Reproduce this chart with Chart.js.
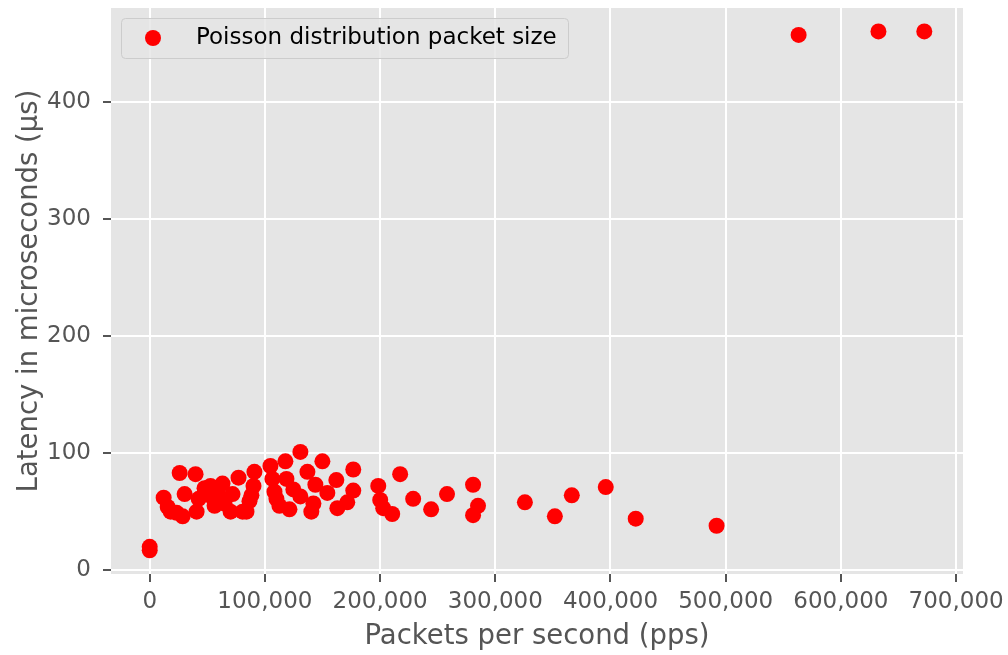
<!DOCTYPE html>
<html>
<head>
<meta charset="utf-8">
<script src="https://cdn.jsdelivr.net/npm/chart.js@4"></script>
<style>
  body { margin: 0; background: #ffffff; }
  canvas { display: block; }
</style>
</head>
<body>
<canvas id="latencyChart" width="1008" height="655"></canvas>
<script>
// Packets per second for each measurement
const packetsPerSecond = [
  0, 0, 12100, 15600, 18200, 23400, 28600, 26000, 30300, 39800,
  40700, 42500, 47600, 52800, 54600, 56300, 60600, 63200, 65000, 70200,
  71900, 77100, 80600, 84000, 86600, 88300, 90100, 90900, 104800, 106500,
  108300, 110000, 112600, 117800, 118700, 121300, 124700, 130800, 130800, 136900,
  140300, 143800, 142100, 149900, 154200, 162900, 162000, 171500, 176700, 176700,
  198400, 200100, 202700, 210500, 217400, 228700, 244300, 258100, 280700, 280700,
  285000, 325700, 351700, 366400, 395900, 421900, 492100, 563300, 632600, 672400
];

// Latency in microseconds, same order as packetsPerSecond
const latencyUs = [
  20, 17, 62, 54, 50, 49, 46, 83, 65, 82,
  50, 61, 70, 72, 62, 55, 63, 74, 57, 50,
  65, 79, 50, 50, 59, 64, 72, 84, 89, 78,
  67, 61, 55, 93, 78, 52, 69, 101, 63, 84,
  50, 73, 57, 93, 66, 53, 77, 58, 68, 86,
  72, 60, 53, 48, 82, 61, 52, 65, 73, 47,
  55, 58, 46, 64, 71, 44, 38, 457, 460, 460
];

const seriesLabel = "Poisson distribution packet size";
const xTickValues = [0, 100000, 200000, 300000, 400000, 500000, 600000, 700000];
const yTickValues = [0, 100, 200, 300, 400];

const points = packetsPerSecond.map((x, i) => ({ x: x, y: latencyUs[i] }));

const tickGrey = "#555555";
const FONT = "'DejaVu Sans', sans-serif";

// grey panel behind the grid, like the ggplot look
const panelBackground = {
  id: "panelBackground",
  beforeDraw(chart) {
    const { ctx, chartArea } = chart;
    ctx.save();
    ctx.fillStyle = "#E5E5E5";
    ctx.fillRect(chartArea.left, chartArea.top,
      chartArea.right - chartArea.left, chartArea.bottom - chartArea.top);
    ctx.restore();
  }
};

// legend box in the upper left corner of the plot
const insideLegend = {
  id: "insideLegend",
  afterDraw(chart) {
    const { ctx, chartArea } = chart;
    const ds = chart.data.datasets[0];
    const x = chartArea.left + 10, y = chartArea.top + 10;
    const w = 447, h = 40;
    ctx.save();
    ctx.beginPath();
    ctx.roundRect(x + 0.5, y + 0.5, w, h, 4);
    ctx.fillStyle = "rgba(229,229,229,0.8)";
    ctx.fill();
    ctx.strokeStyle = "#CCCCCC";
    ctx.lineWidth = 1;
    ctx.stroke();

    ctx.beginPath();
    ctx.arc(x + 32, y + 20, 8, 0, Math.PI * 2);
    ctx.fillStyle = ds.backgroundColor;
    ctx.fill();

    ctx.fillStyle = "#000000";
    ctx.font = "23px " + FONT;
    ctx.textBaseline = "middle";
    ctx.fillText(ds.label, x + 75, y + 20);
    ctx.restore();
  }
};

// fixed axis box sizes, no extra padding for the edge labels
function fixAxis(size) {
  return (scale) => {
    if (scale.isHorizontal()) scale.height = size;
    else scale.width = size;
    scale.paddingTop = 0;
    scale.paddingBottom = 0;
    scale.paddingLeft = 0;
    scale.paddingRight = 0;
  };
}

new Chart(document.getElementById("latencyChart"), {
  type: "scatter",
  data: {
    datasets: [{
      label: seriesLabel,
      data: points,
      backgroundColor: "#FF0000",
      borderWidth: 0,
      pointRadius: 8,
      pointHoverRadius: 8
    }]
  },
  options: {
    responsive: false,
    animation: false,
    layout: { padding: { top: 3, right: 45, left: 0, bottom: 0 } },
    plugins: {
      legend: { display: false },
      tooltip: { enabled: false }
    },
    scales: {
      x: {
        type: "linear",
        min: -33600,
        max: 706000,
        afterFit: fixAxis(81),
        afterBuildTicks: (scale) => { scale.ticks = xTickValues.map((v) => ({ value: v })); },
        border: { display: false },
        grid: {
          color: "#FFFFFF",
          lineWidth: 2,
          tickColor: tickGrey,
          tickWidth: 2,
          tickLength: 8
        },
        ticks: {
          color: tickGrey,
          font: { family: FONT, size: 23 },
          padding: 6,
          maxRotation: 0,
          callback: (v) => v.toLocaleString("en-US")
        },
        title: {
          display: true,
          text: "Packets per second (pps)",
          color: tickGrey,
          font: { family: FONT, size: 27.5 },
          padding: { top: 0, bottom: 2 }
        }
      },
      y: {
        type: "linear",
        min: -3.2,
        max: 480,
        afterFit: fixAxis(111),
        afterBuildTicks: (scale) => { scale.ticks = yTickValues.map((v) => ({ value: v })); },
        border: { display: false },
        grid: {
          color: "#FFFFFF",
          lineWidth: 2,
          tickColor: tickGrey,
          tickWidth: 2,
          tickLength: 8
        },
        ticks: {
          color: tickGrey,
          font: { family: FONT, size: 23 },
          padding: 12
        },
        title: {
          display: true,
          text: "Latency in microseconds (μs)",
          color: tickGrey,
          font: { family: FONT, size: 27.5 },
          padding: { top: 13, bottom: 0 }
        }
      }
    }
  },
  plugins: [panelBackground, insideLegend]
});
</script>
</body>
</html>
